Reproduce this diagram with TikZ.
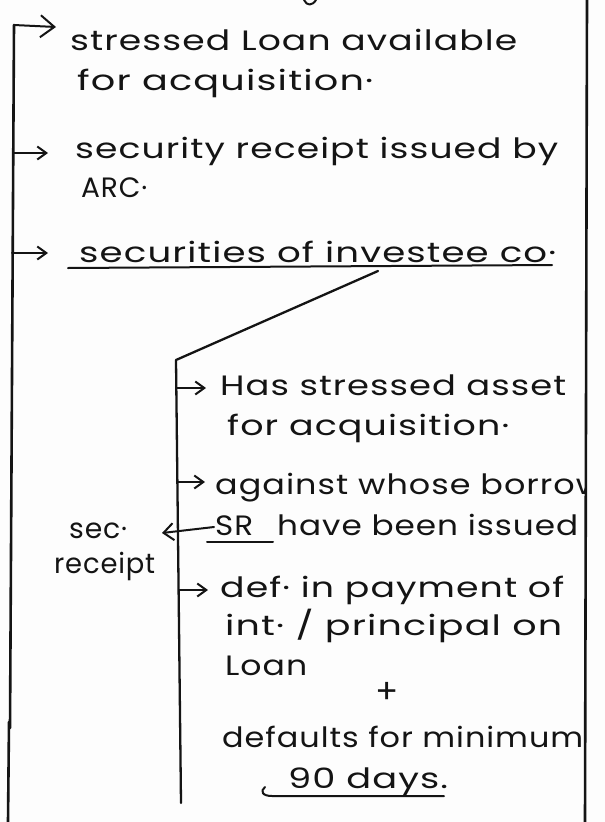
\documentclass[tikz,border=0pt]{standalone}
\usepackage{fontspec}
\usepackage{graphicx}
\usetikzlibrary{arrows.meta}
\newfontfamily\handfont[LetterSpace=3]{Poppins}
% set a line of notes to an exact width, keeping its height
\newcommand\fitto[2]{\resizebox{#1pt}{\height}{#2}}
\definecolor{ink}{HTML}{141414}
\definecolor{paper}{HTML}{FDFDFD}
\tikzset{
  note/.style={font=\handfont\fontsize{28}{32}\selectfont, text=ink, inner sep=0pt, anchor=base west},
  frame/.style={draw=ink, line width=2.6pt, line cap=round},
  pen/.style={draw=ink, line width=2pt, line cap=round, line join=round},
  bigtip/.style={-{Straight Barb[length=14pt,width=22pt]}},
  tip/.style={-{Straight Barb[length=9pt,width=13pt]}},
}
\begin{document}
\begin{tikzpicture}[x=1pt,y=-1pt]
\fill[paper] (0,0) rectangle (605,822);
\useasboundingbox (0,0) rectangle (605,822);

% outer frame
\coordinate (Ltop) at (14,25);
\coordinate (Lmid) at (10,728);
\coordinate (Llow) at (9,722);
\coordinate (Lbot) at (8,822);
\coordinate (Rtop) at (587,0);
\coordinate (Rbot) at (585,822);
\draw[frame] (Ltop) -- (Lmid);
\draw[frame] (Llow) -- (Lbot);
\draw[frame] (Rtop) -- (Rbot);

% stroke left over from the previous lines
\draw[pen] (304,0) .. controls (307,6) and (312,6) .. (316,0);

% first group of points
\node[note] (t1) at (70,50) {\fitto{447}{stressed Loan available}};
\node[note] (t2) at (77,90) {\fitto{296}{for acquisition·}};
\node[note] (t3) at (75,158) {\fitto{483}{security receipt issued by}};
\node[note] (t4) at (81,197) {\fitto{66}{ARC·}};
\node[note] (t5) at (79,262) {\fitto{477}{securities of investee co·}};

\coordinate (a1) at (56,27);
\coordinate (b2) at (13,153);
\coordinate (a2) at (48,153);
\coordinate (b3) at (12,253);
\coordinate (a3) at (48,253);
\draw[pen, bigtip] (Ltop) -- (a1);
\draw[pen, tip] (b2) -- (a2);
\draw[pen, tip] (b3) -- (a3);

\coordinate (u1) at (68,268);
\coordinate (u2) at (552,265);
\draw[pen] (u1) -- (u2);

% branch to the investee company
\coordinate (Stop) at (378,271);
\coordinate (Itop) at (176,360);
\coordinate (Ibot) at (181,803);
\draw[pen, line width=2.3pt] (Stop) -- (Itop) -- (Ibot);

\node[note] (h1) at (220,395) {\fitto{346}{Has stressed asset}};
\node[note] (h2) at (227,435) {\fitto{282}{for acquisition·}};
\begin{scope}
  \clip (0,0) rectangle (585,822);
  \node[note] (g1) at (215,494) {\fitto{388}{against whose borrow}};
\end{scope}
\node[note] (sr) at (215,535) {\fitto{38}{SR}};
\node[note] (g2) at (277,535) {\fitto{301}{have been issued}};
\node[note] (d1) at (220,597) {\fitto{344}{def· in payment of}};
\node[note] (d2) at (225,635) {\fitto{337}{int· / principal on}};
\node[note] (d3) at (225,675) {\fitto{82}{Loan}};
\node[note, anchor=center, font=\handfont\fontsize{34}{36}\selectfont] (plus) at (387,693) {+};
\node[note] (d4) at (222,747) {\fitto{361}{defaults for minimum}};
\node[note] (d5) at (288,788) {\fitto{160}{90 days.}};

\coordinate (c1) at (176,388);
\coordinate (e1) at (206,388);
\coordinate (c2) at (177,482);
\coordinate (e2) at (205,482);
\coordinate (c3) at (179,590);
\coordinate (e3) at (208,590);
\draw[pen, tip] (c1) -- (e1);
\draw[pen, tip] (c2) -- (e2);
\draw[pen, tip] (c3) -- (e3);

% side note on security receipts
\node[note] (s1) at (69,538) {\fitto{58}{sec·}};
\node[note] (s2) at (54,573) {\fitto{101}{receipt}};
\coordinate (srL) at (214,527);
\coordinate (srT) at (162,533);
\draw[pen, -{Straight Barb[length=10pt,width=17pt]}] (srL) -- (srT);

\coordinate (v1) at (207,542);
\coordinate (v2) at (273,542);
\draw[pen] (v1) -- (v2);

\coordinate (w0) at (265,787);
\coordinate (w1) at (272,796);
\coordinate (w2) at (444,796);
\draw[pen] (w0) .. controls (260,791) and (262,796) .. (w1) -- (w2);
\end{tikzpicture}
\end{document}
